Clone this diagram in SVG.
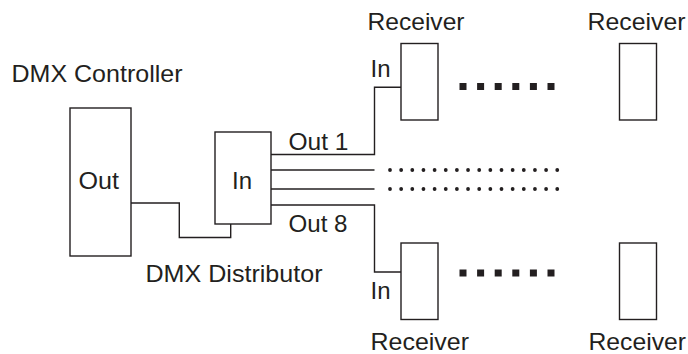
<svg xmlns="http://www.w3.org/2000/svg" width="688" height="354" viewBox="0 0 688 354">
<style>
.box{fill:#fff;stroke:#231f20;stroke-width:1.4}
.wire{fill:none;stroke:#231f20;stroke-width:1.4}
.lbl{font-family:"Liberation Sans",Arial,sans-serif;font-size:24px;fill:#231f20}
.dots{fill:none;stroke:#231f20;stroke-width:3.8;stroke-linecap:round;stroke-dasharray:0 11.15}
.sq{fill:#231f20}
</style>
<rect width="688" height="354" fill="#fff"/>
<g id="connectors">
<path class="wire" d="M131,203 H179.3 V237.5 H230.7 V224"/>
<path class="wire" d="M271,154.5 H374.5 V87.3 H401"/>
<path class="wire" d="M271,170 H374.5"/>
<path class="wire" d="M271,189 H374.5"/>
<path class="wire" d="M271,205 H374.5 V272 H401"/>
<path class="dots" d="M390,170 H558.5"/>
<path class="dots" d="M390,189 H558.5"/>
</g>
<g id="controller">
<rect class="box" x="70" y="108" width="61" height="148"/>
<text class="lbl" x="78.5" y="188.5" textLength="40.5" lengthAdjust="spacingAndGlyphs">Out</text>
<text class="lbl" x="11.5" y="82" textLength="171" lengthAdjust="spacingAndGlyphs">DMX Controller</text>
</g>
<g id="distributor">
<rect class="box" x="215" y="132" width="56" height="92"/>
<text class="lbl" x="232" y="188.5" textLength="20" lengthAdjust="spacingAndGlyphs">In</text>
<text class="lbl" x="288.5" y="149.5" textLength="60" lengthAdjust="spacingAndGlyphs">Out 1</text>
<text class="lbl" x="288.5" y="231.5" textLength="59" lengthAdjust="spacingAndGlyphs">Out 8</text>
<text class="lbl" x="145.5" y="281.5" textLength="177" lengthAdjust="spacingAndGlyphs">DMX Distributor</text>
</g>
<g id="receiver-top-1">
<rect class="box" x="401" y="43.5" width="37" height="76.5"/>
<text class="lbl" x="367.5" y="30" textLength="97" lengthAdjust="spacingAndGlyphs">Receiver</text>
<text class="lbl" x="370.5" y="77" textLength="20" lengthAdjust="spacingAndGlyphs">In</text>
</g>
<g id="receiver-top-n">
<rect class="box" x="619.5" y="43.5" width="37" height="76.5"/>
<text class="lbl" x="587.5" y="30" textLength="98" lengthAdjust="spacingAndGlyphs">Receiver</text>
</g>
<g id="receiver-bottom-1">
<rect class="box" x="401" y="243" width="37" height="76.5"/>
<text class="lbl" x="370.5" y="298.5" textLength="20" lengthAdjust="spacingAndGlyphs">In</text>
<text class="lbl" x="370.5" y="350" textLength="98.5" lengthAdjust="spacingAndGlyphs">Receiver</text>
</g>
<g id="receiver-bottom-n">
<rect class="box" x="619.5" y="243" width="37" height="76.5"/>
<text class="lbl" x="588.5" y="350" textLength="97.5" lengthAdjust="spacingAndGlyphs">Receiver</text>
</g>
<g id="ellipsis-top">
<rect class="sq" x="459.5" y="83" width="7" height="7"/>
<rect class="sq" x="477.1" y="83" width="7" height="7"/>
<rect class="sq" x="494.7" y="83" width="7" height="7"/>
<rect class="sq" x="512.3" y="83" width="7" height="7"/>
<rect class="sq" x="529.9" y="83" width="7" height="7"/>
<rect class="sq" x="547.5" y="83" width="7" height="7"/>
</g>
<g id="ellipsis-bottom">
<rect class="sq" x="459.5" y="269.5" width="7" height="7"/>
<rect class="sq" x="477.1" y="269.5" width="7" height="7"/>
<rect class="sq" x="494.7" y="269.5" width="7" height="7"/>
<rect class="sq" x="512.3" y="269.5" width="7" height="7"/>
<rect class="sq" x="529.9" y="269.5" width="7" height="7"/>
<rect class="sq" x="547.5" y="269.5" width="7" height="7"/>
</g>
</svg>
